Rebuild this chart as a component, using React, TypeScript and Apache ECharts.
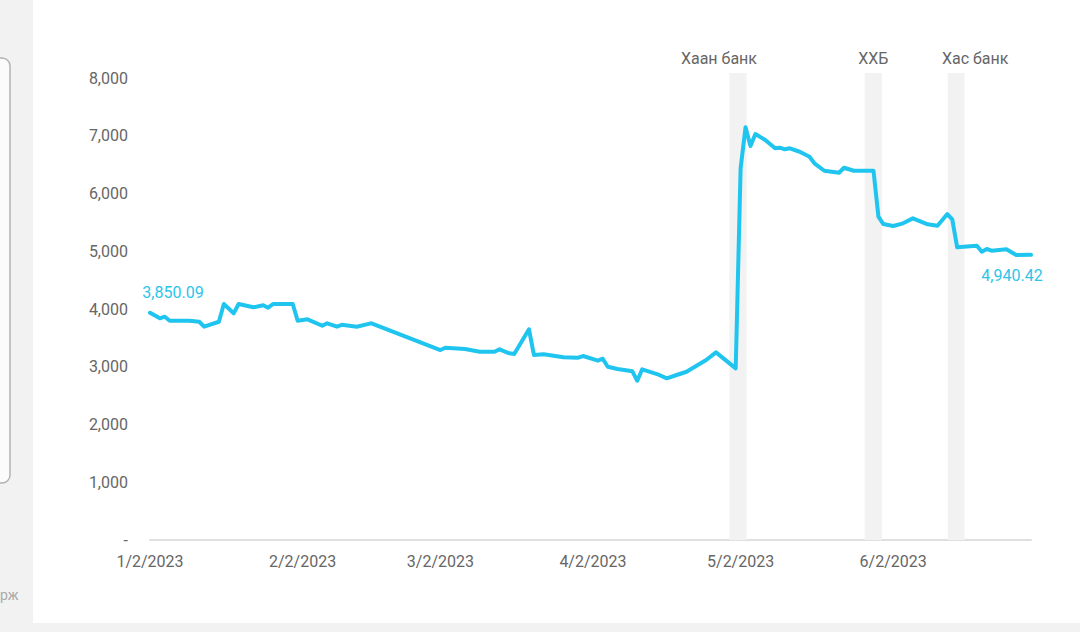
import React, { useEffect, useRef } from "react";
import * as echarts from "echarts";

const dates: string[] = [
  "2023-01-02", "2023-01-04", "2023-01-05", "2023-01-06", "2023-01-10", "2023-01-12",
  "2023-01-13", "2023-01-16", "2023-01-17", "2023-01-19", "2023-01-20", "2023-01-23",
  "2023-01-25", "2023-01-26", "2023-01-27", "2023-01-31", "2023-02-01", "2023-02-03",
  "2023-02-06", "2023-02-07", "2023-02-09", "2023-02-10", "2023-02-13", "2023-02-15",
  "2023-02-16", "2023-03-02", "2023-03-03", "2023-03-07", "2023-03-10", "2023-03-13",
  "2023-03-14", "2023-03-16", "2023-03-17", "2023-03-20", "2023-03-21", "2023-03-23",
  "2023-03-27", "2023-03-30", "2023-03-31", "2023-04-03", "2023-04-04", "2023-04-05",
  "2023-04-07", "2023-04-10", "2023-04-11", "2023-04-12", "2023-04-15", "2023-04-17",
  "2023-04-19", "2023-04-21", "2023-04-25", "2023-04-27", "2023-05-01", "2023-05-02",
  "2023-05-03", "2023-05-04", "2023-05-05", "2023-05-07", "2023-05-09", "2023-05-10",
  "2023-05-11", "2023-05-12", "2023-05-14", "2023-05-16", "2023-05-17", "2023-05-19",
  "2023-05-22", "2023-05-23", "2023-05-25", "2023-05-29", "2023-05-30", "2023-05-31",
  "2023-06-02", "2023-06-04", "2023-06-06", "2023-06-09", "2023-06-11", "2023-06-13",
  "2023-06-14", "2023-06-15", "2023-06-19", "2023-06-20", "2023-06-21", "2023-06-22",
  "2023-06-25", "2023-06-27", "2023-06-30",
];

const values: number[] = [
  3937, 3840, 3868, 3799, 3799, 3781,
  3695, 3781, 4088, 3927, 4088, 4031,
  4066, 4024, 4088, 4088, 3799, 3823,
  3712, 3754, 3695, 3729, 3695, 3736,
  3754, 3291, 3331, 3308, 3262, 3262,
  3303, 3234, 3222, 3650, 3205, 3217,
  3165, 3158, 3187, 3106, 3141, 3002,
  2962, 2922, 2759, 2957, 2875, 2801,
  2858, 2915, 3118, 3251, 2974, 6438,
  7149, 6825, 7033, 6929, 6785, 6796,
  6768, 6785, 6726, 6640, 6525, 6397,
  6362, 6449, 6397, 6397, 5600, 5474,
  5439, 5486, 5572, 5469, 5444, 5647,
  5555, 5070, 5098, 4994, 5041, 5011,
  5035, 4937, 4940.42,
];

const startLabelValue = 3850.09;

const xTickDates: string[] = [
  "2023-01-02", "2023-02-02", "2023-03-02", "2023-04-02", "2023-05-02", "2023-06-02",
];
const xMin = "2023-01-02";
const xMax = "2023-06-30";

const yMin = 0;
const yMax = 8090;
const yInterval = 1000;

const bandNames: string[] = ["Хаан банк", "ХХБ", "Хас банк"];
const bandStarts: string[] = ["2023-04-29 17:00", "2023-05-27 05:00", "2023-06-13 02:00"];
const bandEnds: string[] = ["2023-05-03 05:00", "2023-05-30 17:00", "2023-06-16 12:00"];

const bandLabelOffsets: number[][] = [[-19, 0], [0, 0], [19, 0]];

const LINE_COLOR = "#1fc5ee";
const LABEL_BLUE = "#2ec4e9";
const TEXT_GREY = "#666666";
const FONT = "Roboto";

function localTs(s: string): number {
  const [datePart, timePart] = s.split(" ");
  const [y, m, d] = datePart.split("-").map(Number);
  let hh = 0;
  let mm = 0;
  if (timePart) {
    const t = timePart.split(":").map(Number);
    hh = t[0] || 0;
    mm = t[1] || 0;
  }
  return new Date(y, m - 1, d, hh, mm).getTime();
}

function fmtNum(v: number, digits: number): string {
  return v.toLocaleString("en-US", {
    minimumFractionDigits: digits,
    maximumFractionDigits: digits,
  });
}

export default function App() {
  const ref = useRef<HTMLDivElement>(null);

  useEffect(() => {
    if (!ref.current) return;
    const chart = echarts.init(ref.current, undefined, { renderer: "svg" });
    const lastIdx = values.length - 1;
    const xs = dates.map(localTs);

    const option: any = {
      animation: false,
      backgroundColor: "#ffffff",
      textStyle: { fontFamily: FONT },
      graphic: [
        {
          type: "rect",
          z: 0,
          shape: { x: 0, y: 0, width: 33, height: 632 },
          style: { fill: "#f2f2f2" },
        },
        {
          type: "rect",
          z: 0,
          shape: { x: 0, y: 623, width: 1080, height: 9 },
          style: { fill: "#f2f2f2" },
        },
        {
          type: "rect",
          z: 1,
          shape: { x: -20, y: 58, width: 30, height: 425, r: 8 },
          style: { fill: "#fbfbfb", stroke: "#b3b3b3", lineWidth: 1.5 },
        },
        {
          type: "text",
          z: 1,
          x: 0,
          y: 595,
          style: {
            text: "рж",
            fill: "#aaaaaa",
            fontSize: 14,
            fontFamily: FONT,
            verticalAlign: "middle",
          },
        },
      ],
      grid: {
        left: 150,
        right: 49,
        top: 73,
        bottom: 92,
        containLabel: false,
        outerBoundsMode: "none",
      },
      xAxis: {
        type: "value",
        min: localTs(xMin),
        max: localTs(xMax),
        axisLine: { show: true, lineStyle: { color: "#e0e0e0", width: 2 } },
        axisTick: { show: false },
        splitLine: { show: false },
        axisLabel: {
          customValues: xTickDates.map(localTs),
          showMinLabel: true,
          showMaxLabel: true,
          color: TEXT_GREY,
          fontSize: 16,
          fontFamily: FONT,
          margin: 13,
          hideOverlap: false,
          formatter: (v: number) => {
            const d = new Date(v);
            return `${d.getMonth() + 1}/${d.getDate()}/${d.getFullYear()}`;
          },
        },
      },
      yAxis: {
        type: "value",
        min: yMin,
        max: yMax,
        interval: yInterval,
        axisLine: { show: false },
        axisTick: { show: false },
        splitLine: { show: false },
        axisLabel: {
          showMaxLabel: false,
          color: TEXT_GREY,
          fontSize: 16,
          fontFamily: FONT,
          margin: 22,
          formatter: (v: number) => {
            if (v === 0) return "-";
            if (v % 1000 !== 0) return "";
            return fmtNum(v, 0);
          },
        },
      },
      series: [
        {
          type: "line",
          clip: false,
          data: xs.map((x, i) => [x, values[i]]),
          showSymbol: false,
          symbol: "none",
          lineStyle: { color: LINE_COLOR, width: 4, cap: "round", join: "round" },
          itemStyle: { color: LINE_COLOR },
          markArea: {
            silent: true,
            itemStyle: { color: "#f2f2f2" },
            label: {
              show: true,
              position: "top",
              distance: 7,
              color: TEXT_GREY,
              fontSize: 16,
              fontFamily: FONT,
            },
            data: bandNames.map((name, i) => [
              {
                name,
                xAxis: localTs(bandStarts[i]),
                yAxis: yMax,
                label: { offset: bandLabelOffsets[i] },
              },
              { xAxis: localTs(bandEnds[i]), yAxis: yMin },
            ]),
          },
          markPoint: {
            silent: true,
            symbol: "circle",
            symbolSize: 1,
            itemStyle: { color: "rgba(0,0,0,0)" },
            label: {
              show: true,
              position: "inside",
              color: LABEL_BLUE,
              fontSize: 16,
              fontFamily: FONT,
              formatter: (p: any) => fmtNum(Number(p.value), 2),
            },
            data: [
              {
                coord: [xs[0], values[0]],
                value: startLabelValue,
                label: { offset: [23, -20] },
              },
              {
                coord: [xs[lastIdx], values[lastIdx]],
                value: values[lastIdx],
                label: { offset: [-19, 21] },
              },
            ],
          },
        },
      ],
    };

    chart.setOption(option);
    return () => chart.dispose();
  }, []);

  return (
    <div
      ref={ref}
      style={{ position: "fixed", left: 0, top: 0, width: 1080, height: 632 }}
    />
  );
}
